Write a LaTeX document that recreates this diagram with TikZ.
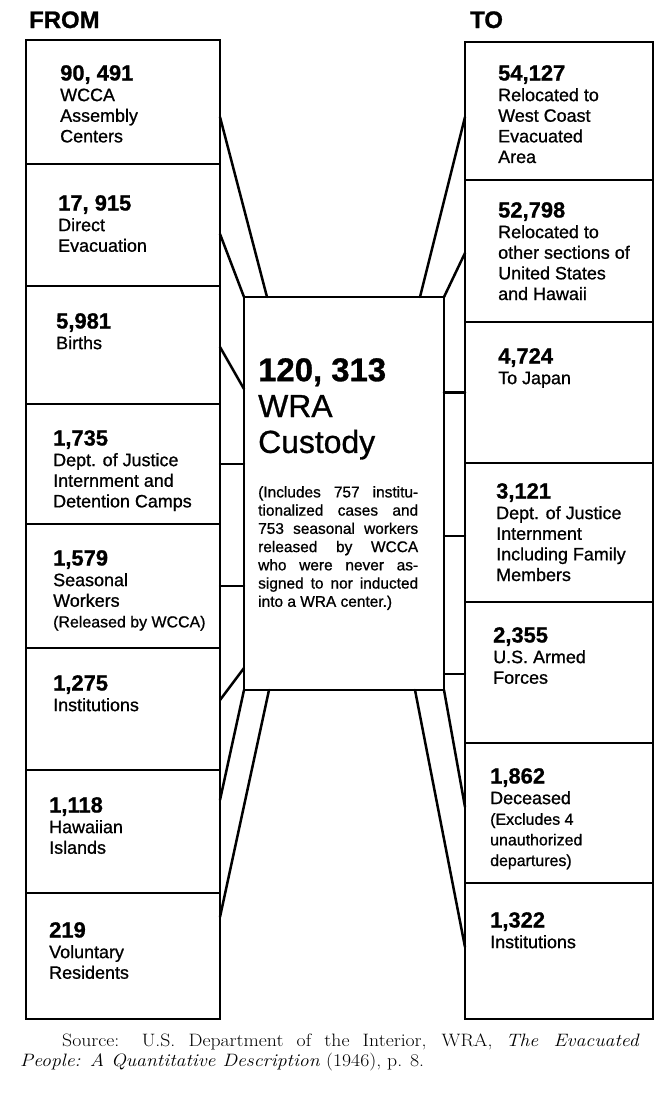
\documentclass[tikz,border=0pt]{standalone}
\usepackage{fontspec}
\newfontfamily\hv[FakeBold=0.9]{Liberation Sans}
\begin{document}
\begin{tikzpicture}[x=1bp,y=-1bp,
  box/.style={draw,line width=2.8bp,inner sep=0pt,outer sep=0pt,rectangle},
  lbox/.style={box,minimum width=194bp},
  rbox/.style={box,minimum width=188bp},
  conn/.style={line width=2.5bp,line cap=round},
  lab/.style={anchor=north west,inner sep=0pt,align=left,font=\hv\fontsize{18}{20.7}\selectfont},
  head/.style={anchor=base west,inner sep=0pt,font=\hv\bfseries\fontsize{24}{25}\selectfont},
]
\newcommand{\num}[1]{{\bfseries\fontsize{22}{22}\selectfont #1}}
\newcommand{\sml}[1]{{\fontsize{16}{19}\selectfont #1}}
\fill[white] (0,0) rectangle (671,1097);
\useasboundingbox (0,0) rectangle (671,1097);

% headers
\node[head] (from) at (29,28) {FROM};
\node[head] (to) at (470,28) {TO};

% left column
\node[lbox,minimum height=124bp] (L1) at (123,102) {};
\node[lbox,minimum height=122bp] (L2) at (123,225) {};
\node[lbox,minimum height=118bp] (L3) at (123,345) {};
\node[lbox,minimum height=120bp] (L4) at (123,464) {};
\node[lbox,minimum height=124bp] (L5) at (123,586) {};
\node[lbox,minimum height=122bp] (L6) at (123,709) {};
\node[lbox,minimum height=123bp] (L7) at (123,831.5) {};
\node[lbox,minimum height=126bp] (L8) at (123,956) {};

% right column
\node[rbox,minimum height=138bp] (R1) at (559,111) {};
\node[rbox,minimum height=142bp] (R2) at (559,251) {};
\node[rbox,minimum height=141bp] (R3) at (559,392.5) {};
\node[rbox,minimum height=139bp] (R4) at (559,532.5) {};
\node[rbox,minimum height=141bp] (R5) at (559,672.5) {};
\node[rbox,minimum height=140bp] (R6) at (559,813) {};
\node[rbox,minimum height=136bp] (R7) at (559,951) {};

% center
\node[box,minimum width=200bp,minimum height=393bp] (C) at (344,493.5) {};

% left texts
\node[lab] (tL1) at (60,65) {\num{90, 491}\\WCCA\\Assembly\\Centers};
\node[lab] (tL2) at (58,195) {\num{17, 915}\\Direct\\Evacuation};
\node[lab] (tL3) at (56,313) {\num{5,981}\\Births};
\node[lab] (tL4) at (53,430) {\num{1,735}\\Dept. of Justice\\Internment and\\Detention Camps};
\node[lab] (tL5) at (53,550) {\num{1,579}\\Seasonal\\Workers\\\sml{(Released by WCCA)}};
\node[lab] (tL6) at (53,675) {\num{1,275}\\Institutions};
\node[lab] (tL7) at (49,797) {\num{1,118}\\Hawaiian\\Islands};
\node[lab] (tL8) at (49,922) {\num{219}\\Voluntary\\Residents};

% right texts
\node[lab] (tR1) at (498,65) {\num{54,127}\\Relocated to\\West Coast\\Evacuated\\Area};
\node[lab] (tR2) at (498,202) {\num{52,798}\\Relocated to\\other sections of\\United States\\and Hawaii};
\node[lab] (tR3) at (498,348) {\num{4,724}\\To Japan};
\node[lab] (tR4) at (496,483) {\num{3,121}\\Dept. of Justice\\Internment\\Including Family\\Members};
\node[lab] (tR5) at (493,627) {\num{2,355}\\U.S. Armed\\Forces};
\node[lab] (tR6) at (490,768) {\num{1,862}\\Deceased\\\sml{(Excludes 4}\\\sml{unauthorized}\\\sml{departures)}};
\node[lab] (tR7) at (490,912) {\num{1,322}\\Institutions};

% center texts
\node[anchor=north west,inner sep=0pt,align=left,font=\hv\fontsize{32}{36}\selectfont] (Ct) at (258,358)
  {{\bfseries\fontsize{33}{36}\selectfont 120, 313}\\WRA\\Custody};
\node[anchor=north west,inner sep=0pt,align=left,font=\hv\fontsize{15.5}{18.3}\selectfont] (Cn) at (258,486)
  {\makebox[160bp][s]{(Includes 757 institu-}\\
   \makebox[160bp][s]{tionalized cases and}\\
   \makebox[160bp][s]{753 seasonal workers}\\
   \makebox[160bp][s]{released by WCCA}\\
   \makebox[160bp][s]{who were never as-}\\
   \makebox[160bp][s]{signed to nor inducted}\\
   into a WRA center.)};

% left connectors
\draw[conn] ([yshift=-15bp]L1.east) -- ([xshift=23bp]C.north west);
\draw[conn] ([yshift=-9bp]L2.east) -- (C.north west);
\draw[conn] ([yshift=-2bp]L3.east) -- ([yshift=-92bp]C.north west);
\draw[conn] (L4.east) -- (L4.east -| C.west);
\draw[conn] (L5.east) -- (L5.east -| C.west);
\draw[conn] ([yshift=9bp]L6.east) -- ([yshift=22bp]C.south west);
\draw[conn] ([yshift=31.5bp]L7.east) -- (C.south west);
\draw[conn] ([yshift=39bp]L8.east) -- ([xshift=25bp]C.south west);

% right connectors
\draw[conn] ([xshift=-24bp]C.north east) -- ([yshift=-6bp]R1.west);
\draw[conn] (C.north east) -- ([yshift=-2bp]R2.west);
\draw[conn] (R3.west -| C.east) -- (R3.west);
\draw[conn] ([yshift=-3.5bp]R4.west) -- ++(-21bp,0);
\draw[conn] ([yshift=-1.5bp]R5.west) -- ++(-21bp,0);
\draw[conn] (C.south east) -- ([yshift=6bp]R6.west);
\draw[conn] ([xshift=-29bp]C.south east) -- ([yshift=4bp]R7.west);

% source
\node[anchor=base west,inner sep=0pt,font=\fontsize{18}{20}\selectfont] (src1) at (62,1046)
  {\scalebox{1.1}[1]{\makebox[525bp][s]{Source: U.S. Department of the Interior, WRA, \textit{The Evacuated}}}};
\node[anchor=base west,inner sep=0pt,font=\fontsize{18}{20}\selectfont] (src2) at (20,1066)
  {\scalebox{1.1}[1]{\textit{People: A Quantitative Description} (1946), p. 8.}};
\end{tikzpicture}
\end{document}
